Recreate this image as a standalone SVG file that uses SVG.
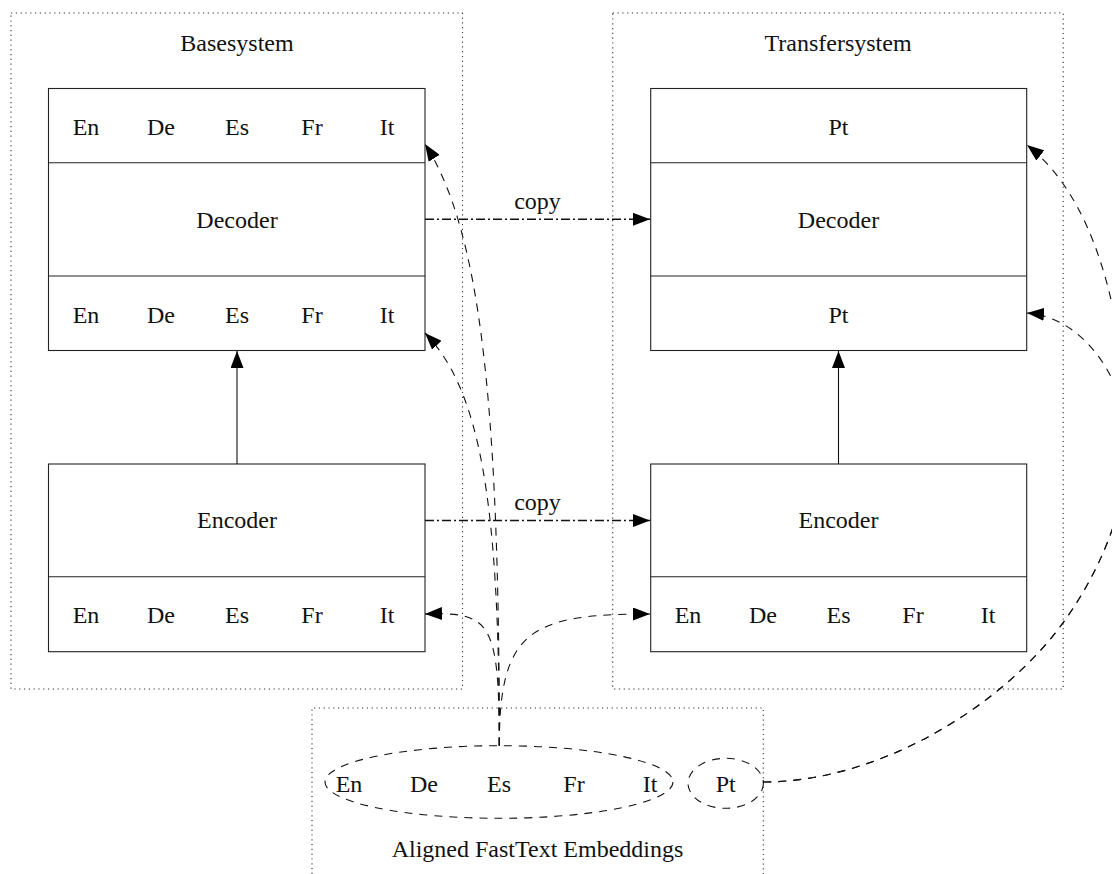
<svg xmlns="http://www.w3.org/2000/svg" width="1112" height="874" viewBox="0 0 1112 874" font-family="'Liberation Serif', 'DejaVu Serif', 'Noto Serif', serif">
<style>
text{font-size:24px;fill:#111;text-anchor:middle}
.box{fill:#fff;stroke:#222;stroke-width:1.1}
.sep{fill:none;stroke:#222;stroke-width:1.1}
.dot{fill:none;stroke:#333;stroke-width:1.1;stroke-dasharray:1.2 3.6}
.dash{fill:none;stroke:#111;stroke-width:1.1;stroke-dasharray:8 7}
.dashdot{fill:none;stroke:#111;stroke-width:1.6;stroke-dasharray:9 3 2 3}
.solid{fill:none;stroke:#111;stroke-width:1.1}
</style>
<defs>
<marker id="ah" markerUnits="userSpaceOnUse" markerWidth="18" markerHeight="13" refX="17" refY="6.5" orient="auto" viewBox="0 0 18 13">
<path d="M0,0 L17,6.5 L0,13 Z" fill="#000"/>
</marker>
</defs>
<rect width="1112" height="874" fill="#fff"/>

<g id="basesystem">
<rect class="dot" x="11" y="13" width="451.5" height="676"/>
<text x="237" y="51">Basesystem</text>
</g>
<g id="transfersystem">
<rect class="dot" x="612.7" y="13" width="450.5" height="676"/>
<text x="838" y="51">Transfersystem</text>
</g>
<g id="embeddings">
<path class="dot" d="M312,874 V708 H763.3 V874"/>
<text x="537.5" y="857">Aligned FastText Embeddings</text>
</g>

<g id="base-decoder">
<rect class="box" x="48.5" y="88.5" width="376.5" height="262"/>
<path class="sep" d="M48.5,162.7 H425 M48.5,276 H425"/>
<text x="86" y="135">En</text><text x="161" y="135">De</text><text x="237" y="135">Es</text><text x="312" y="135">Fr</text><text x="387" y="135">It</text>
<text x="237" y="228">Decoder</text>
<text x="86" y="322.7">En</text><text x="161" y="322.7">De</text><text x="237" y="322.7">Es</text><text x="312" y="322.7">Fr</text><text x="387" y="322.7">It</text>
</g>
<g id="base-encoder">
<rect class="box" x="48.5" y="464" width="376.5" height="187.7"/>
<path class="sep" d="M48.5,576.7 H425"/>
<text x="237" y="528.3">Encoder</text>
<text x="86" y="622.7">En</text><text x="161" y="622.7">De</text><text x="237" y="622.7">Es</text><text x="312" y="622.7">Fr</text><text x="387" y="622.7">It</text>
</g>
<g id="transfer-decoder">
<rect class="box" x="650.7" y="88.5" width="376" height="262"/>
<path class="sep" d="M650.7,162.7 H1026.7 M650.7,276 H1026.7"/>
<text x="838.5" y="135">Pt</text>
<text x="838.5" y="228">Decoder</text>
<text x="838.5" y="322.7">Pt</text>
</g>
<g id="transfer-encoder">
<rect class="box" x="650.7" y="464" width="376" height="187.7"/>
<path class="sep" d="M650.7,576.7 H1026.7"/>
<text x="838.5" y="528.3">Encoder</text>
<text x="688" y="622.7">En</text><text x="763" y="622.7">De</text><text x="838.5" y="622.7">Es</text><text x="913" y="622.7">Fr</text><text x="988" y="622.7">It</text>
</g>
<g id="emb-main">
<ellipse class="dash" cx="499" cy="782" rx="174" ry="36.3"/>
<text x="349" y="791.7">En</text><text x="424" y="791.7">De</text><text x="499" y="791.7">Es</text><text x="574" y="791.7">Fr</text><text x="650" y="791.7">It</text>
</g>
<g id="emb-pt">
<ellipse class="dash" cx="725.7" cy="783.3" rx="37.7" ry="25"/>
<text x="725.7" y="791.7">Pt</text>
</g>

<g id="connectors">
<path class="solid" d="M237,464 V351" marker-end="url(#ah)"/>
<path class="solid" d="M838.5,464 V351" marker-end="url(#ah)"/>
<path class="dashdot" d="M425,219.3 H650" marker-end="url(#ah)"/>
<text x="537.5" y="209">copy</text>
<path class="dashdot" d="M425,520.5 H650" marker-end="url(#ah)"/>
<text x="537.5" y="510">copy</text>
<path class="dash" d="M499.3,745.7 C499.3,400 480,230 425,144" marker-end="url(#ah)"/>
<path class="dash" d="M499.3,745.7 C499.3,500 480,390 425,333" marker-end="url(#ah)"/>
<path class="dash" d="M499.3,745.7 C499.3,620 490,612 425,614" marker-end="url(#ah)"/>
<path class="dash" d="M499.3,745.7 C499.3,630 530,614 650,614" marker-end="url(#ah)"/>
<path class="dash" d="M763.3,782 C880,782 1005,705 1065,620 C1108,560 1130,490 1128,440 C1127,390 1090,318 1027,313" marker-end="url(#ah)"/>
<path class="dash" d="M763.3,782 C880,782 1005,705 1065,620 C1108,560 1130,490 1128,440 C1126,360 1110,210 1027,145" marker-end="url(#ah)"/>
</g>
</svg>
